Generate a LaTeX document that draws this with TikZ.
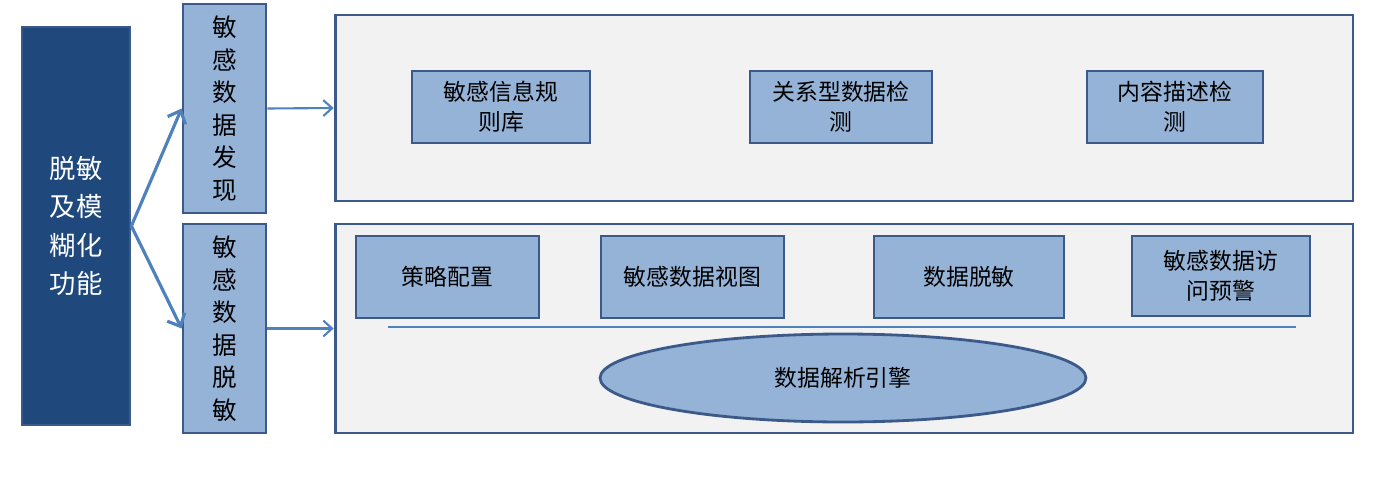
\documentclass[tikz,border=0pt]{standalone}
\usepackage{fontspec}
\setmainfont{Noto Sans CJK SC}
\usetikzlibrary{arrows.meta,shapes.geometric}
\definecolor{dk}{HTML}{1F497D}
\definecolor{bd}{HTML}{3B5A8A}
\definecolor{lb}{HTML}{95B3D7}
\definecolor{ar}{HTML}{4F81BD}
\definecolor{pg}{HTML}{F2F2F2}
\tikzset{
 box/.style={draw=bd,line width=1.6pt,fill=lb,align=center,font=\fontsize{13}{17}\selectfont,inner sep=2pt},
 side/.style={box,minimum width=1.66cm,minimum height=4.18cm,inner sep=0pt,font=\fontsize{14}{18.5}\selectfont},
 panel/.style={draw=bd,line width=1.6pt,fill=pg,minimum width=20.36cm},
 conn/.style={draw=ar,line width=1.8pt},
 arr/.style={draw=ar,line width=1.2pt,-{Straight Barb[length=5pt,width=9pt]}}
}
\begin{document}
\begin{tikzpicture}[x=0.02cm,y=-0.02cm]
\useasboundingbox (0,0) rectangle (1373,494);
\node[box,fill=dk,text=white,minimum width=2.16cm,minimum height=7.96cm,font=\fontsize{15}{22}\selectfont] (L) at (76,226) {脱敏\\及模\\糊化\\功能};
\node[side] (S1) at (224.5,108.5) {敏\\感\\数\\据\\发\\现};
\node[side] (S2) at (224.5,328.5) {敏\\感\\数\\据\\脱\\敏};
\node[panel,minimum height=3.72cm] (P1) at (844,108) {};
\node[panel,minimum height=4.18cm] (P2) at (844,328.5) {};
\node[box,minimum width=3.56cm,minimum height=1.44cm] (a1) at (501,107) {敏感信息规\\则库};
\node[box,minimum width=3.64cm,minimum height=1.44cm] (a2) at (841,107) {关系型数据检\\测};
\node[box,minimum width=3.52cm,minimum height=1.44cm] (a3) at (1175,107) {内容描述检\\测};
\node[box,minimum width=3.66cm,minimum height=1.64cm] (b1) at (447.5,277) {策略配置};
\node[box,minimum width=3.66cm,minimum height=1.64cm] (b2) at (692.5,277) {敏感数据视图};
\node[box,minimum width=3.8cm,minimum height=1.64cm] (b3) at (969,277) {数据脱敏};
\node[box,minimum width=3.56cm,minimum height=1.6cm] (b4) at (1221,276) {敏感数据访\\问预警};
\node[box,ellipse,minimum width=9.72cm,minimum height=1.76cm] (E) at (843,378) {数据解析引擎};
\coordinate (l1) at (388,327); \coordinate (l2) at (1296,327);
\draw[draw=ar,line width=0.8pt] (l1) -- (l2);
\draw[conn,-{Straight Barb[length=6pt,width=11pt]}] (L.east) -- (S1.west);
\draw[conn,-{Straight Barb[length=6pt,width=11pt]}] (L.east) -- (S2.west);
\draw[arr] (S1.east) -- (P1.west);
\draw[arr] (S2.east) -- (P2.west);
\end{tikzpicture}
\end{document}
